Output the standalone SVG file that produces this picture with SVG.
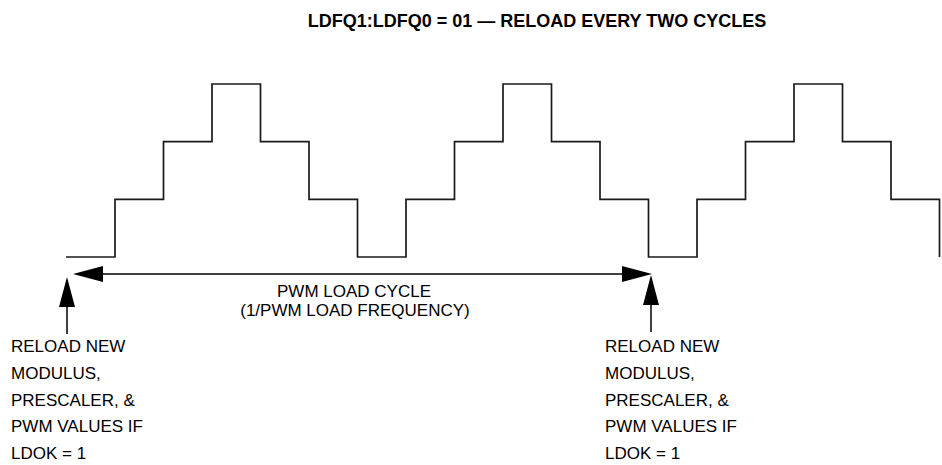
<svg xmlns="http://www.w3.org/2000/svg" width="942" height="465" viewBox="0 0 942 465">
<style>
.t{font-family:"Liberation Sans",Arial,sans-serif;font-size:17px;fill:#000}
.title{font-family:"Liberation Sans",Arial,sans-serif;font-size:18px;font-weight:bold;fill:#000}
.wave{fill:none;stroke:#1a1a1a;stroke-width:1.7}
.ln{fill:none;stroke:#000;stroke-width:1.5}
.ah{fill:#000;stroke:none}
</style>
<rect width="942" height="465" fill="#fff"/>
<g id="title"><text class="title" x="537" y="27" text-anchor="middle">LDFQ1:LDFQ0 = 01 — RELOAD EVERY TWO CYCLES</text></g>
<g id="waveform">
<path class="wave" d="M66,257 H115 V199.3 H163.5 V141.7 H212 V84 H260.5 V141.7 H309 V199.3 H357.5 V257 H406 V199.3 H454.5 V141.7 H503 V84 H551.5 V141.7 H600 V199.3 H648.5 V257 H697 V199.3 H745.5 V141.7 H794 V84 H842.5 V141.7 H891 V199.3 H939.5 V257"/>
</g>
<g id="connectors">
<line class="ln" x1="100" y1="274" x2="625" y2="274"/>
<polygon class="ah" points="73,274 103,266 103,282"/>
<polygon class="ah" points="652,274 622,266 622,282"/>
<line class="ln" x1="67" y1="304" x2="67" y2="334"/>
<polygon class="ah" points="67,277 59,307 75,307"/>
<line class="ln" x1="651" y1="302" x2="651" y2="332"/>
<polygon class="ah" points="651,275 643,305 659,305"/>
</g>
<g id="load-cycle-label">
<text class="t" x="354" y="297" text-anchor="middle">PWM LOAD CYCLE</text>
<text class="t" x="355" y="316" text-anchor="middle">(1/PWM LOAD FREQUENCY)</text>
</g>
<g id="reload-left">
<text class="t" x="11" y="352">RELOAD NEW</text>
<text class="t" x="11" y="379">MODULUS,</text>
<text class="t" x="11" y="406">PRESCALER, &amp;</text>
<text class="t" x="11" y="432">PWM VALUES IF</text>
<text class="t" x="11" y="459">LDOK = 1</text>
</g>
<g id="reload-right">
<text class="t" x="605" y="352">RELOAD NEW</text>
<text class="t" x="605" y="379">MODULUS,</text>
<text class="t" x="605" y="406">PRESCALER, &amp;</text>
<text class="t" x="605" y="432">PWM VALUES IF</text>
<text class="t" x="605" y="459">LDOK = 1</text>
</g>
</svg>
